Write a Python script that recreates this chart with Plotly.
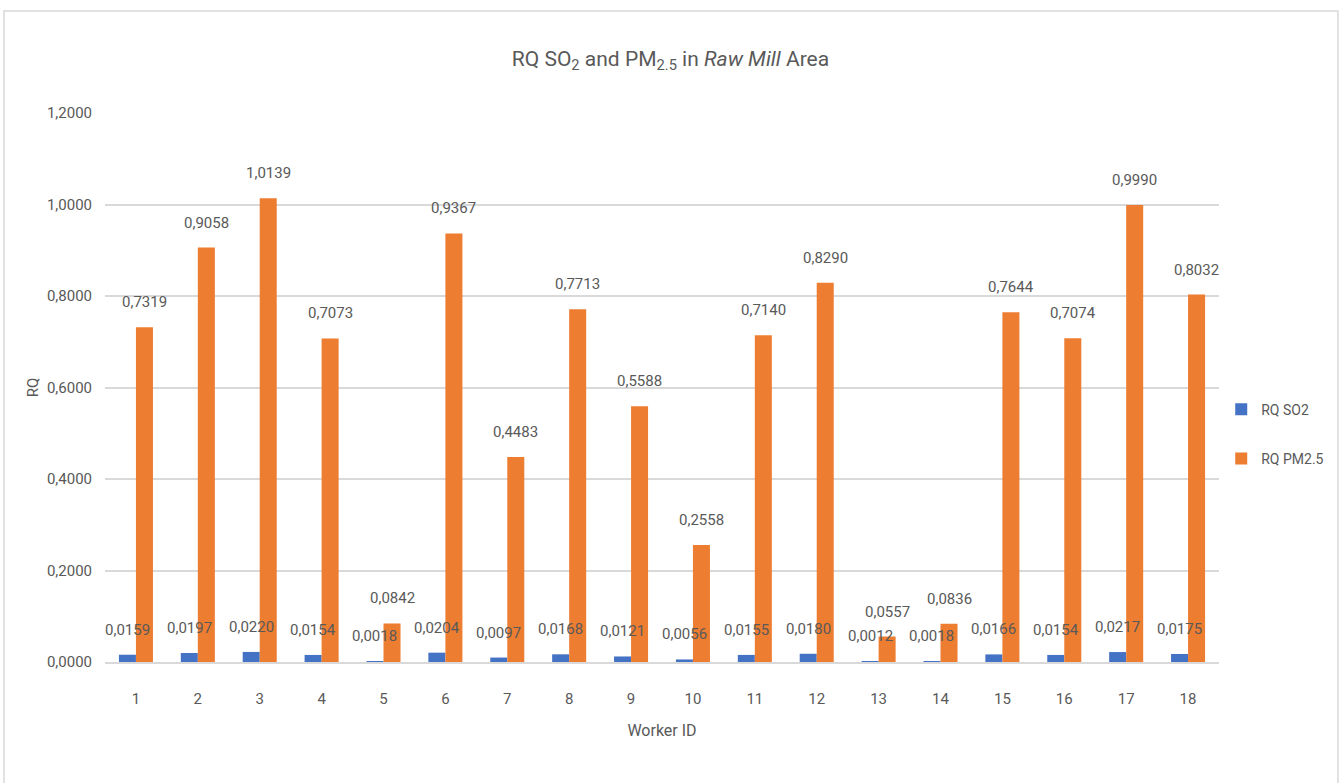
import plotly.graph_objects as go

workers = list(range(1, 19))
rq_so2 = [0.0159, 0.0197, 0.0220, 0.0154, 0.0018, 0.0204, 0.0097, 0.0168, 0.0121,
          0.0056, 0.0155, 0.0180, 0.0012, 0.0018, 0.0166, 0.0154, 0.0217, 0.0175]
rq_pm25 = [0.7319, 0.9058, 1.0139, 0.7073, 0.0842, 0.9367, 0.4483, 0.7713, 0.5588,
           0.2558, 0.7140, 0.8290, 0.0557, 0.0836, 0.7644, 0.7074, 0.9990, 0.8032]
y_ticks = [0.0, 0.2, 0.4, 0.6, 0.8, 1.0, 1.2]

FONT = "Roboto, Open Sans, sans-serif"
GREY = "#595959"
BLUE = "#4472C4"
ORANGE = "#ED7D31"
BARGAP = 0.45


def comma(v):
    return f"{v:.4f}".replace(".", ",")


fig = go.Figure()
fig.add_trace(go.Bar(x=workers, y=rq_so2, name="RQ SO2", marker_color=BLUE,
                     marker_line_width=0, legendgroup="a"))
fig.add_trace(go.Bar(x=workers, y=rq_pm25, name="RQ PM2.5", marker_color=ORANGE,
                     marker_line_width=0, legendgroup="b"))

# value labels above each bar
half = (1 - BARGAP) / 4
annotations = []
for w, a, b in zip(workers, rq_so2, rq_pm25):
    for val, dx in ((a, -half), (b, half)):
        annotations.append(dict(x=w + dx, y=val, xref="x", yref="y", text=comma(val),
                                showarrow=False, yshift=25,
                                font=dict(family=FONT, size=15, color=GREY)))

fig.update_layout(
    width=1341, height=783,
    margin=dict(l=105, r=122, t=113, b=121, autoexpand=False),
    paper_bgcolor="white", plot_bgcolor="white",
    barmode="group", bargap=BARGAP, bargroupgap=0,
    title=dict(text="RQ SO<sub>2</sub> and PM<sub>2.5</sub> in <i>Raw Mill</i> Area",
               x=0.5, xanchor="center", y=0.925, yanchor="middle",
               font=dict(family=FONT, size=21, color=GREY)),
    font=dict(family=FONT, size=15, color=GREY),
    legend=dict(x=1.002, y=0.415, xanchor="left", yanchor="middle",
                font=dict(family=FONT, size=14, color=GREY),
                tracegroupgap=28, itemwidth=30, bgcolor="rgba(0,0,0,0)"),
    annotations=annotations,
    shapes=[dict(type="rect", xref="paper", yref="paper",
                 x0=-0.0907, x1=1.1068, y0=-0.25, y1=1.1858,
                 line=dict(color="#D9D9D9", width=1.5), layer="below")],
)
fig.update_xaxes(tickmode="array", tickvals=workers, ticktext=[str(w) for w in workers],
                 range=[0.5, 18.5], showgrid=False, showline=True, linecolor="#D9D9D9",
                 linewidth=1.5, ticks="", ticklabelstandoff=22,
                 tickfont=dict(family=FONT, size=15, color=GREY),
                 title=dict(text="Worker ID", standoff=18,
                            font=dict(family=FONT, size=16, color=GREY)))
fig.update_yaxes(tickmode="array", tickvals=y_ticks, ticktext=[comma(v) for v in y_ticks],
                 range=[0, 1.2], showgrid=True, gridcolor="#D9D9D9", gridwidth=1.5,
                 zeroline=False, ticks="", ticklabelstandoff=12,
                 tickfont=dict(family=FONT, size=15, color=GREY),
                 title=dict(text="RQ", standoff=4,
                            font=dict(family=FONT, size=15, color=GREY)))

fig.write_html("out.html")
